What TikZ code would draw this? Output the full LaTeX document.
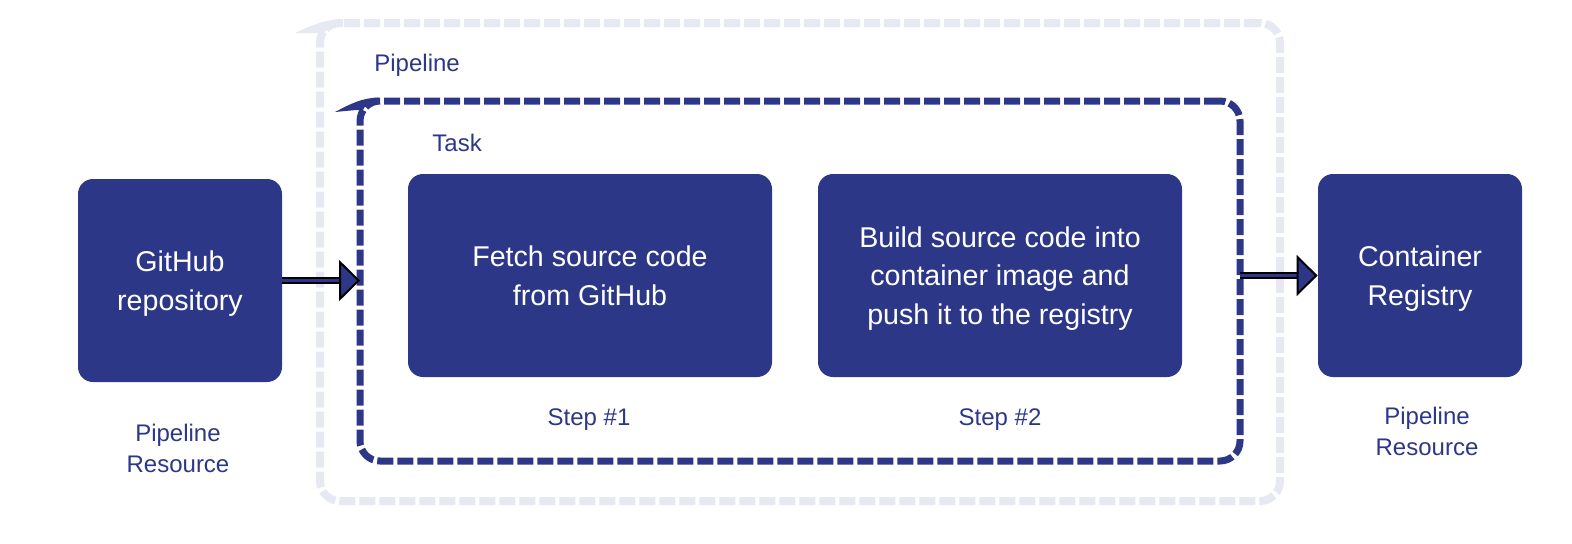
\documentclass[tikz,border=0pt]{standalone}
\usepackage{fontspec}
\setmainfont{Liberation Sans}
\usetikzlibrary{arrows.meta}
\definecolor{navy}{RGB}{45,55,135}
\definecolor{haze}{RGB}{230,233,241}
\begin{document}
\begin{tikzpicture}[x=0.5pt,y=-0.5pt,
  box/.style={fill=navy,text=white,rounded corners=7.5pt,align=center,
    font=\fontsize{14.3}{19.25}\selectfont,minimum height=101.5pt,text depth=-4.5pt},
  lbl/.style={text=navy,inner sep=0pt,align=center,font=\fontsize{12}{15.5}\selectfont},
  arr/.style={draw=black,line width=1pt,double=navy,double distance=1.5pt,
    -{Triangle[length=10.5pt,width=20.5pt,line width=1pt,fill=navy]}}]
\useasboundingbox (0,0) rectangle (1572,543);
\node [draw=haze,line width=4pt,dash pattern=on 8pt off 2pt,rounded corners=10pt,
  outer sep=0pt,minimum width=480pt,minimum height=239pt] (pipe) at (800,262) {};
\fill [haze] (295,33) .. controls (310,26) and (325,19.5) .. (343,19) -- (343,27)
  .. controls (332,27) and (326,29) .. (324,33) -- (316,33) -- cycle;
\node [draw=navy,line width=3.5pt,dash pattern=on 8pt off 2pt,rounded corners=10pt,
  outer sep=0pt,minimum width=440pt,minimum height=180pt] (task) at (800,281) {};
\fill [navy] (335,112) .. controls (350,104) and (362,98) .. (378,97.5) -- (378,104.5)
  .. controls (368,104.5) and (364,106) .. (363,110) -- (356,110) -- cycle;
\node [lbl,anchor=base west] (pipet) at (374,71) {Pipeline};
\node [lbl,anchor=base west] (taskt) at (432,151) {Task};
\node [box,minimum width=102pt] (gh) at (180,280.5) {GitHub\\repository};
\node [box,minimum width=182pt] (fetch) at (590,275.5) {Fetch source code\\from GitHub};
\node [box,minimum width=182pt] (build) at (1000,275.5) {Build source code into\\container image and\\push it to the registry};
\node [box,minimum width=102pt] (reg) at (1420,275.5) {Container\\Registry};
\node [lbl,anchor=base] (step1) at (589,425) {Step \#1};
\node [lbl,anchor=base] (step2) at (1000,425) {Step \#2};
\node [lbl,anchor=north] (res1) at (178,424) {Pipeline\\Resource};
\node [lbl,anchor=north] (res2) at (1427,407) {Pipeline\\Resource};
\draw [arr] (gh.east) -- (task.west |- gh.east);
\draw [arr] (task.east |- reg.west) -- (reg.west);
\end{tikzpicture}
\end{document}
